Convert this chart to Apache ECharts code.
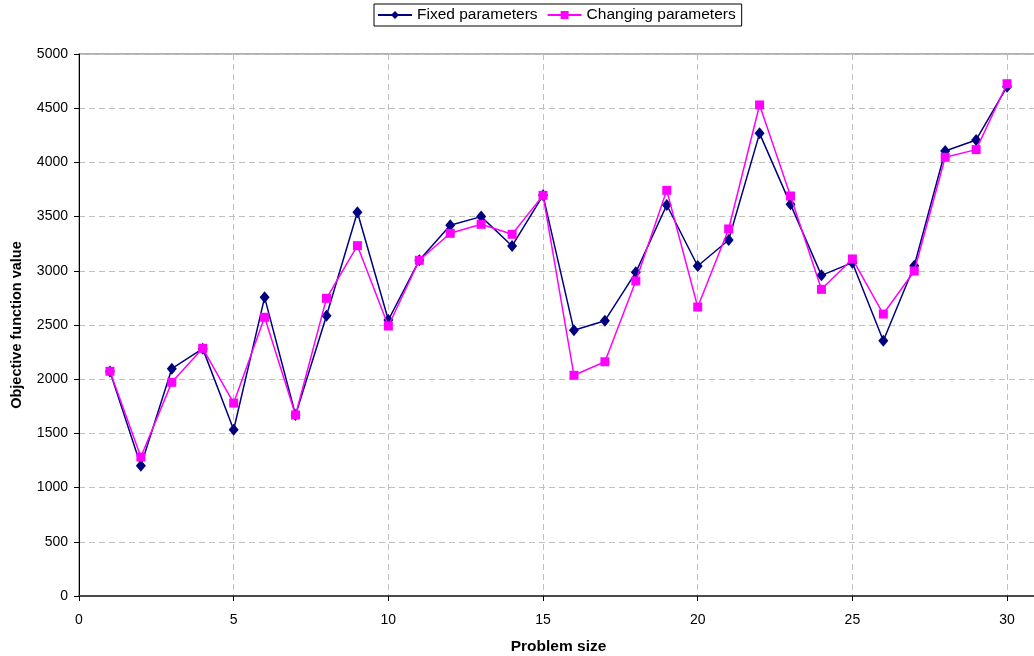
<!DOCTYPE html>
<html>
<head>
<meta charset="utf-8">
<script src="https://cdn.jsdelivr.net/npm/echarts@6/dist/echarts.min.js"></script>
<style>
  html, body { margin: 0; padding: 0; background: #fff; }
  #chart { width: 1034px; height: 656px; }
</style>
</head>
<body>
<div id="chart"></div>
<script>
// Problem sizes 1..30
const problemSizes = [1, 2, 3, 4, 5, 6, 7, 8, 9, 10, 11, 12, 13, 14, 15,
  16, 17, 18, 19, 20, 21, 22, 23, 24, 25, 26, 27, 28, 29, 30];

// Objective function value with fixed parameters
const fixedValues = [2070, 1202, 2097, 2282, 1534, 2755, 1670, 2585, 3540, 2546,
  3097, 3420, 3500, 3229, 3696, 2451, 2540, 2986, 3607, 3044,
  3284, 4268, 3613, 2958, 3075, 2355, 3047, 4105, 4207, 4699];

// Objective function value with changing parameters
const changingValues = [2073, 1282, 1971, 2285, 1780, 2571, 1670, 2746, 3232, 2491,
  3097, 3346, 3429, 3337, 3696, 2036, 2161, 2906, 3742, 2666,
  3386, 4530, 3690, 2829, 3109, 2601, 2998, 4047, 4118, 4726];

const seriesNames = ['Fixed parameters', 'Changing parameters'];

const pairs = (ys) => problemSizes.map((x, i) => [x, ys[i]]);

const chart = echarts.init(document.getElementById('chart'), null, { renderer: 'canvas' });

const fontFamily = '"Liberation Sans", Arial, sans-serif';
const gridLine = { show: true, lineStyle: { color: '#c0c0c0', type: [6, 4], width: 1 } };

chart.setOption({
  animation: false,
  backgroundColor: '#ffffff',
  textStyle: { fontFamily: fontFamily },
  legend: {
    data: seriesNames,
    left: 374,
    top: 4,
    padding: [3, 6, 3, 3],
    itemGap: 9,
    itemWidth: 34,
    itemHeight: 10,
    borderColor: '#000',
    borderWidth: 1,
    borderRadius: 0,
    textStyle: { fontSize: 15.5, color: '#000', fontFamily: fontFamily }
  },
  grid: {
    left: 79,
    top: 54,
    right: -4,
    bottom: 60,
    outerBoundsMode: 'none',
    containLabel: false,
    show: true,
    borderColor: '#999',
    borderWidth: 1.5
  },
  xAxis: {
    type: 'value',
    min: 0,
    max: 31,
    interval: 5,
    name: 'Problem size',
    nameLocation: 'middle',
    nameGap: 43,
    nameTextStyle: { fontSize: 15.5, fontWeight: 'bold', color: '#000', fontFamily: fontFamily },
    axisLine: { show: true, lineStyle: { color: '#4a4a4a', width: 2 } },
    axisTick: { show: true, length: 5, lineStyle: { color: '#000' } },
    axisLabel: {
      fontSize: 14, color: '#000', margin: 17,
      showMaxLabel: false,
      formatter: (v) => (v % 5 === 0 ? String(v) : '')
    },
    splitLine: gridLine
  },
  yAxis: {
    type: 'value',
    min: 0,
    max: 5000,
    interval: 500,
    name: 'Objective function value',
    nameLocation: 'middle',
    nameGap: 55,
    nameTextStyle: { fontSize: 14.5, fontWeight: 'bold', color: '#000', fontFamily: fontFamily },
    axisLine: { show: true, lineStyle: { color: '#000', width: 1 } },
    axisTick: { show: true, length: 5, lineStyle: { color: '#000' } },
    axisLabel: { fontSize: 14, color: '#000', margin: 11, formatter: (v) => String(v) },
    splitLine: gridLine
  },
  series: [
    {
      name: seriesNames[0],
      type: 'line',
      data: pairs(fixedValues),
      symbol: 'diamond',
      symbolSize: [10, 12],
      showAllSymbol: true,
      lineStyle: { color: '#000080', width: 1.5 },
      itemStyle: { color: '#000080', borderWidth: 0 },
      z: 2
    },
    {
      name: seriesNames[1],
      type: 'line',
      data: pairs(changingValues),
      symbol: 'rect',
      symbolSize: 9,
      showAllSymbol: true,
      lineStyle: { color: '#ff00ff', width: 1.5 },
      itemStyle: { color: '#ff00ff', borderWidth: 0 },
      z: 3
    }
  ]
});
</script>
</body>
</html>
